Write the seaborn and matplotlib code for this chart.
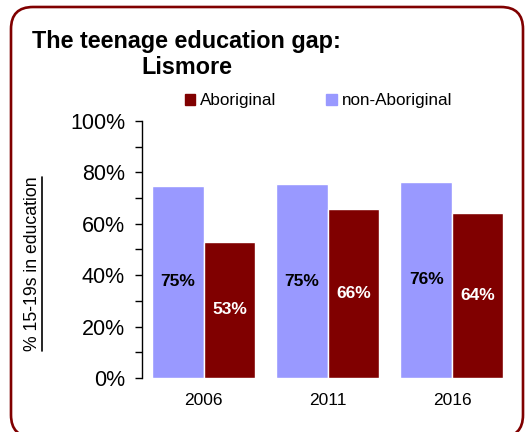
import matplotlib
matplotlib.use("Agg")
import matplotlib.pyplot as plt
import pandas as pd
import seaborn as sns
from matplotlib.patches import FancyBboxPatch, Patch
from matplotlib.lines import Line2D
from matplotlib.transforms import IdentityTransform
from matplotlib.ticker import MultipleLocator, PercentFormatter

years = ["2006", "2011", "2016"]
groups = ["non-Aboriginal", "Aboriginal"]
non_aboriginal = [74.7, 75.3, 76.4]
aboriginal = [53.0, 65.6, 64.0]
non_aboriginal_labels = ["75%", "75%", "76%"]
aboriginal_labels = ["53%", "66%", "64%"]
colors = {"non-Aboriginal": "#9999ff", "Aboriginal": "#800000"}

df = pd.DataFrame({
    "year": years * 2,
    "group": ["non-Aboriginal"] * 3 + ["Aboriginal"] * 3,
    "value": non_aboriginal + aboriginal,
})

sns.set_style("white")
plt.rcParams["font.family"] = ["Liberation Sans", "DejaVu Sans"]
plt.rcParams["text.color"] = "black"
plt.rcParams["axes.labelcolor"] = "black"
plt.rcParams["xtick.color"] = "black"
plt.rcParams["ytick.color"] = "black"

fig = plt.figure(figsize=(5.31, 4.32), dpi=100)
ax = fig.add_axes([0.267, 0.125, 0.701, 0.595])

sns.barplot(data=df, x="year", y="value", hue="group", hue_order=groups,
            palette=colors, width=0.83, saturation=1, legend=False, ax=ax)

ax.set_ylim(0, 100)
ax.set_xlim(-0.5, 2.5)
ax.yaxis.set_major_locator(MultipleLocator(20))
ax.yaxis.set_minor_locator(MultipleLocator(10))
ax.yaxis.set_major_formatter(PercentFormatter(decimals=0))
ax.tick_params(axis="y", which="both", left=True, length=5, width=1,
               color="black", labelsize=15.5, pad=7)
ax.tick_params(axis="x", bottom=False, labelsize=12.5, pad=7)
ax.set_xlabel("")
ax.set_ylabel("% 15-19s in education", fontsize=12.7)
ax.yaxis.set_label_coords(-0.272, 0.444)
for side in ["top", "right", "bottom"]:
    ax.spines[side].set_visible(False)
ax.spines["left"].set_color("black")
ax.spines["left"].set_linewidth(1)

label_sets = [non_aboriginal_labels, aboriginal_labels]
text_colors = ["black", "white"]
for container, labels, tc in zip(ax.containers, label_sets, text_colors):
    ax.bar_label(container, labels=labels, label_type="center",
                 fontsize=12.5, fontweight="bold", color=tc)

handles = [Patch(color=colors["Aboriginal"], label="Aboriginal"),
           Patch(color=colors["non-Aboriginal"], label="non-Aboriginal")]
fig.legend(handles=handles, loc="center", bbox_to_anchor=(0.600, 0.767),
           ncol=2, frameon=False, fontsize=12.3, handlelength=0.6,
           handleheight=0.6, handletextpad=0.3, columnspacing=2.9)

fig.text(0.352, 0.93, "The teenage education gap:\nLismore", ha="center",
         va="top", fontsize=16.8, fontweight="bold", linespacing=1.15)

# underline the axis label
fig.canvas.draw()
bb = ax.yaxis.label.get_window_extent()
fig.add_artist(Line2D([bb.x1 + 1, bb.x1 + 1], [bb.y0, bb.y1], color="black",
                      lw=1.2, transform=IdentityTransform()))

border = FancyBboxPatch((11, -5), 512, 430,
                        boxstyle="round,pad=0,rounding_size=22",
                        fill=False, edgecolor="#800000", linewidth=1.9,
                        transform=IdentityTransform())
fig.add_artist(border)

fig.savefig("out.png", dpi=100)
